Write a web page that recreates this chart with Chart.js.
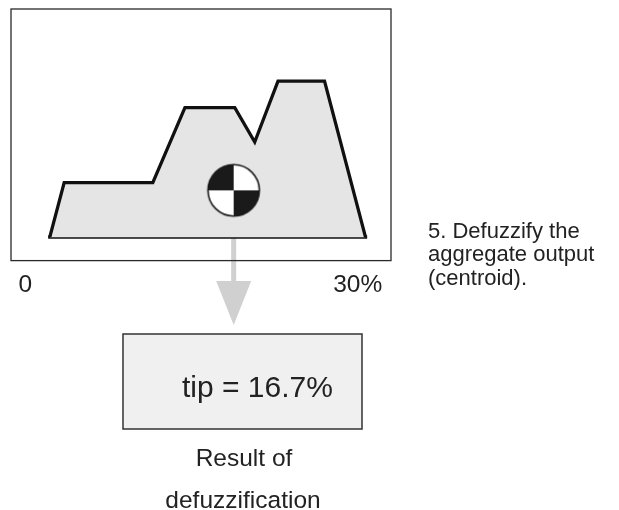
<!DOCTYPE html>
<html lang="en">
<head>
    <meta charset="UTF-8">
    <title>Defuzzification</title>
    <script src="https://cdn.jsdelivr.net/npm/chart.js"></script>
    <style>
        body { margin: 0; background: #fff; }
        canvas { display: block; }
    </style>
    <script>
        // aggregate output shape
        const shapeX = [2.2, 3.5, 11.5, 14.4, 18.9, 20.7, 22.8, 27.0, 30.7];
        const shapeY = [0, 0.35, 0.35, 0.83, 0.83, 0.61, 1.0, 1.0, 0];
        const centroidX = [18.8];
        const centroidY = [0.30];
        const tickValues = [0, 30];
        const tickLabels = ["0", "30%"];
        const resultText = "tip = 16.7%";
        const captionLines = ["Result of", "defuzzification"];
        const noteLines = ["5. Defuzzify the", "aggregate output", "(centroid)."];

        const FONT = '"Liberation Sans", Arial, sans-serif';

        function centroidMarker() {
            const c = document.createElement("canvas");
            c.width = 56; c.height = 56;
            const g = c.getContext("2d");
            const r = 26, cx = 28, cy = 28;
            g.fillStyle = "#fff";
            g.beginPath(); g.arc(cx, cy, r, 0, Math.PI * 2); g.fill();
            g.fillStyle = "#1a1a1a";
            // top-left and bottom-right quarters are black
            g.beginPath(); g.moveTo(cx, cy); g.arc(cx, cy, r, Math.PI, Math.PI * 1.5); g.closePath(); g.fill();
            g.beginPath(); g.moveTo(cx, cy); g.arc(cx, cy, r, 0, Math.PI * 0.5); g.closePath(); g.fill();
            g.strokeStyle = "#1a1a1a";
            g.lineWidth = 1.6;
            g.beginPath(); g.arc(cx, cy, r - 0.3, 0, Math.PI * 2); g.stroke();
            return c;
        }

        const extras = {
            id: "extras",
            beforeDatasetsDraw(chart) {
                const ctx = chart.ctx;
                const x = chart.scales.x.getPixelForValue(centroidX[0]);
                const y0 = chart.scales.y.getPixelForValue(0);
                // grey arrow down to the result box
                ctx.save();
                ctx.fillStyle = "#d0d0d0";
                ctx.fillRect(x - 2.5, y0, 5, 283 - y0);
                ctx.beginPath();
                ctx.moveTo(x - 17.5, 281);
                ctx.lineTo(x + 17.5, 281);
                ctx.lineTo(x, 325);
                ctx.closePath();
                ctx.fill();
                ctx.restore();
            },
            afterDraw(chart) {
                const ctx = chart.ctx;
                const a = chart.chartArea;
                ctx.save();
                ctx.strokeStyle = "#2a2a2a";
                ctx.lineWidth = 1.3;
                ctx.strokeRect(a.left, a.top, a.right - a.left, a.bottom - a.top);

                ctx.fillStyle = "#f0f0f0";
                ctx.fillRect(123, 334, 239, 95);
                ctx.strokeStyle = "#333";
                ctx.lineWidth = 1.5;
                ctx.strokeRect(123, 334, 239, 95);

                ctx.fillStyle = "#222";
                ctx.textBaseline = "alphabetic";
                ctx.textAlign = "left";
                ctx.font = "30px " + FONT;
                ctx.fillText(resultText, 182, 397);

                ctx.textAlign = "center";
                ctx.font = "24.5px " + FONT;
                ctx.fillText(captionLines[0], 244, 466);
                ctx.fillText(captionLines[1], 243, 508);

                ctx.textAlign = "left";
                ctx.font = "22px " + FONT;
                noteLines.forEach((t, i) => ctx.fillText(t, 428, 238 + i * 23.3));
                ctx.restore();
            }
        };

        window.onload = function () {
            const shape = shapeX.map((x, i) => ({ x, y: shapeY[i] }));
            const base = [{ x: shapeX[0], y: 0 }, { x: shapeX[shapeX.length - 1], y: 0 }];

            new Chart(document.getElementById("defuzzChart"), {
                type: "scatter",
                data: {
                    datasets: [{
                        data: shape,
                        showLine: true,
                        fill: "origin",
                        backgroundColor: "#e5e5e5",
                        borderColor: "#111",
                        borderWidth: 3.3,
                        borderJoinStyle: "miter",
                        pointRadius: 0,
                        tension: 0
                    }, {
                        data: base,
                        showLine: true,
                        borderColor: "#111",
                        borderWidth: 3.3,
                        borderCapStyle: "square",
                        pointRadius: 0
                    }, {
                        // centroid marker sits on top of the shape
                        data: centroidX.map((x, i) => ({ x, y: centroidY[i] })),
                        pointStyle: centroidMarker(),
                        pointRadius: 27,
                        order: -1
                    }]
                },
                options: {
                    responsive: false,
                    animation: false,
                    layout: { autoPadding: false, padding: { left: 11, top: 9, right: 228, bottom: 200 } },
                    plugins: { legend: { display: false }, tooltip: { enabled: false } },
                    scales: {
                        x: {
                            type: "linear",
                            min: -1.3,
                            max: 33,
                            grid: { display: false, drawTicks: false },
                            border: { display: false },
                            afterBuildTicks: s => { s.ticks = tickValues.map(v => ({ value: v })); },
                            ticks: {
                                autoSkip: false,
                                maxRotation: 0,
                                padding: 10,
                                color: "#222",
                                font: { family: FONT, size: 24.5 },
                                callback: (v, i) => tickLabels[i]
                            }
                        },
                        y: { display: false, min: -0.15, max: 1.462 }
                    }
                },
                plugins: [extras]
            });
        };
    </script>
</head>
<body>
    <canvas id="defuzzChart" width="619" height="510"></canvas>
</body>
</html>
